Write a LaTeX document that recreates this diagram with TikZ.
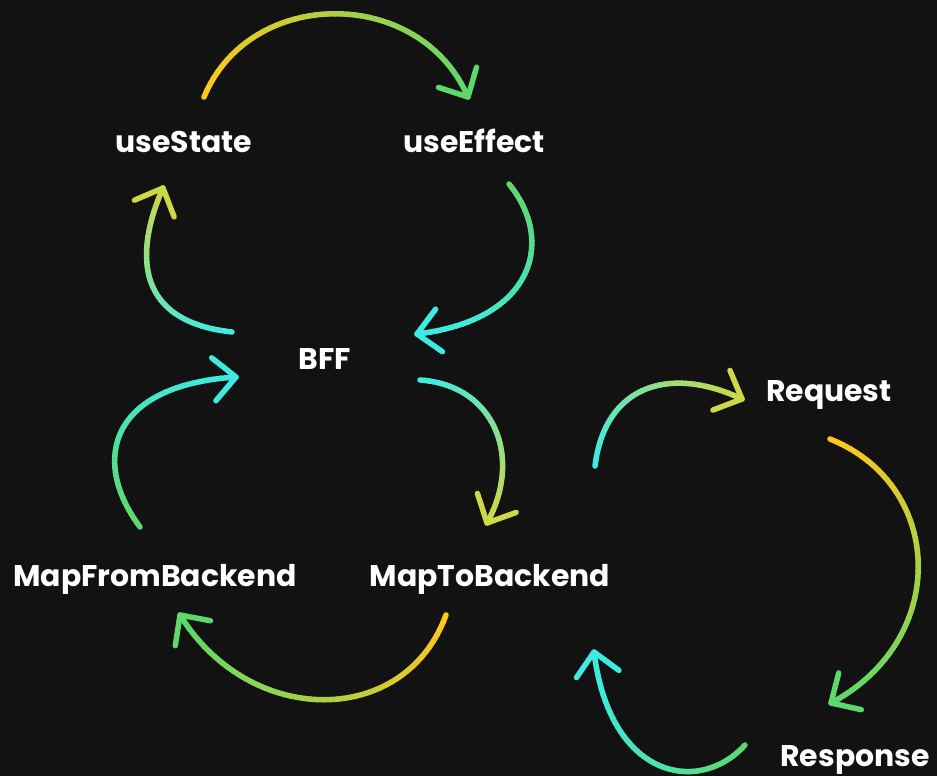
\documentclass[tikz,border=0pt]{standalone}
\usepackage{fontspec}
\setmainfont{Poppins}
\usetikzlibrary{calc}

\definecolor{bg}{HTML}{121212}
\definecolor{fcyan}{HTML}{3DEBE3}
\definecolor{fgreen}{HTML}{5DD86B}
\definecolor{fyellow}{HTML}{FFC71C}
\definecolor{flime}{HTML}{CDD747}

\tikzset{
  label/.style={text=white, font=\bfseries\fontsize{30}{35}\selectfont, anchor=base, inner sep=0pt},
  flow/.style={line width=5.5bp, line cap=round, line join=round},
}

% \flowarc{start}{control 1}{control 2}{tip}{start colour}{end colour}{prefix}
% draws a cubic curve in short pieces with a colour blend, then an open chevron tip
\newcommand\flowarc[7]{%
  \foreach \k in {0,...,48}{%
    \path (#1) .. controls (#2) and (#3) .. (#4) coordinate[pos=\k/48] (#7-\k);
  }%
  \foreach \k [evaluate=\k as \j using int(\k+1), evaluate=\k as \p using int(100*\k/47)] in {0,...,47}{%
    \draw[flow, color=#6!\p!#5] (#7-\k) -- (#7-\j);
  }%
  \draw[flow, color=#6] ($(#7-48)!31bp!44:(#7-45)$) -- (#7-48) -- ($(#7-48)!31bp!-44:(#7-45)$);
}

\begin{document}
\begin{tikzpicture}[x=1bp, y=-1bp]
  \fill[bg] (0,0) rectangle (937,776);
  \useasboundingbox (0,0) rectangle (937,776);

  % labels
  \node[label] (usestate)  at (184,152) {useState};
  \node[label] (useeffect) at (474,152) {useEffect};
  \node[label] (bff)       at (325,369) {BFF};
  \node[label] (request)   at (829,401) {Request};
  \node[label] (mapfrom)   at (155,586) {MapFromBackend};
  \node[label] (mapto)     at (490,586) {MapToBackend};
  \node[label] (response)  at (855,766) {Response};

  % free ends of the curved connectors
  \coordinate (a1s) at (204,97);  \coordinate (a1t) at (468,97);
  \coordinate (a2s) at (232,332); \coordinate (a2t) at (163,188);
  \coordinate (a3s) at (509,184); \coordinate (a3t) at (417,334);
  \coordinate (a4s) at (140,527); \coordinate (a4t) at (236,377);
  \coordinate (a5s) at (420,380); \coordinate (a5t) at (487,523);
  \coordinate (a6s) at (446,615); \coordinate (a6t) at (180,615);
  \coordinate (a7s) at (595,466); \coordinate (a7t) at (742,399);
  \coordinate (a8s) at (830,439); \coordinate (a8t) at (831,703);
  \coordinate (a9s) at (745,745); \coordinate (a9t) at (594,652);

  % useState -> useEffect
  \flowarc{a1s}{250,-14}{420,-14}{a1t}{fyellow}{fgreen}{c1}
  % BFF -> useState
  \flowarc{a2s}{122,320}{142,235}{a2t}{fcyan}{flime}{c2}
  % useEffect -> BFF
  \flowarc{a3s}{555,240}{535,320}{a3t}{fgreen}{fcyan}{c3}
  % MapFromBackend -> BFF
  \flowarc{a4s}{90,460}{110,385}{a4t}{fgreen}{fcyan}{c4}
  % BFF -> MapToBackend
  \flowarc{a5s}{495,385}{523,458}{a5t}{fcyan}{flime}{c5}
  % MapToBackend -> MapFromBackend
  \flowarc{a6s}{405,728}{250,728}{a6t}{fyellow}{fgreen}{c6}
  % MapToBackend -> Request
  \flowarc{a7s}{605,385}{670,365}{a7t}{fcyan}{flime}{c7}
  % Request -> Response
  \flowarc{a8s}{945,485}{950,640}{a8t}{fyellow}{fgreen}{c8}
  % Response -> MapToBackend
  \flowarc{a9s}{700,795}{610,780}{a9t}{fgreen}{fcyan}{c9}
\end{tikzpicture}
\end{document}
